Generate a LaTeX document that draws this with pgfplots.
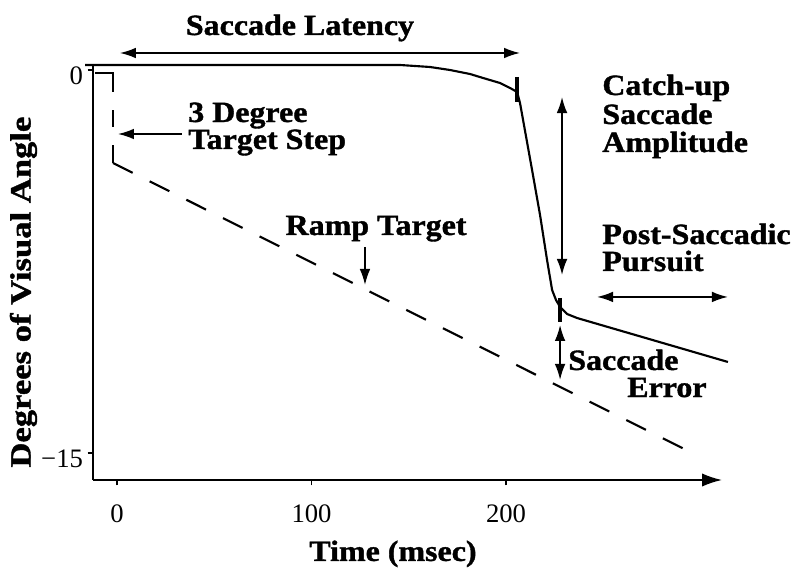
\documentclass[border=0pt]{standalone}
\usepackage{fontspec}
\setmainfont{Liberation Serif}[BoldFeatures={FakeBold=1.2}]
\usepackage{graphicx}
\usepackage{pgfplots}
\pgfplotsset{compat=1.18}
\usetikzlibrary{arrows.meta}

\newcommand{\wide}[1]{\scalebox{1.09}[1]{#1}}
\tikzset{
  lab/.style={font=\fontsize{22}{22}\selectfont\bfseries, inner sep=0pt},
  tip/.tip={Latex[length=12pt,width=8pt]},
  arr/.style={line width=1.2pt},
}

\begin{document}
\begin{tikzpicture}
\useasboundingbox (-69.75pt,-75.75pt) rectangle (530.25pt,360pt);
\begin{axis}[
  at={(0pt,0pt)}, anchor=south west,
  scale only axis, width=471.75pt, height=311.25pt,
  xmin=-12.34, xmax=311.05, ymin=-16.06, ymax=0.196,
  axis lines=left,
  axis line style={line width=1.3pt},
  x axis line style={-{Latex[length=15pt,width=10pt]}},
  y axis line style={-},
  xtick={0,100,200}, xticklabels={0,100,200},
  ytick={-15,0}, yticklabels={−15,0},
  tick align=outside, major tick length=4pt,
  tick style={line width=1pt, black},
  tick label style={font=\fontsize{20}{20}\selectfont},
  xticklabel style={yshift=-11pt},
  yticklabel style={yshift=-4.5pt},
  clip=false,
]

% target: step part
\addplot[line width=1.6pt, dash pattern=on 27.75pt off 13.5pt on 12.75pt off 13.5pt on 13.5pt off 60pt]
  coordinates {(-11.31,-0.118)(-2.06,-0.118)(-2.06,-3.643)};
% target: ramp
\addplot[line width=1.6pt, dash pattern=on 16.5pt off 14.25pt]
  coordinates {(-2.06,-3.643)(295.63,-15.0)};

% eye position
\addplot[line width=1.6pt, line join=round]
  coordinates {
    (-16.45,0.196)(145.5,0.196)(160.9,0.118)(171.2,0)(181.5,-0.157)
    (188.2,-0.313)(196.9,-0.509)(202.1,-0.705)(205.7,-0.862)(207.2,-1.293)
    (213.4,-3.917)(217.5,-5.680)(221.1,-7.442)(223.7,-8.617)(225.7,-9.009)
    (227.8,-9.283)(231.4,-9.557)(236.5,-9.714)(314.1,-11.437)
  };

% saccade start / end marks
\addplot[line width=2.6pt] coordinates {(205.7,-0.274)(205.7,-1.253)};
\addplot[line width=2.6pt] coordinates {(227.8,-8.93)(227.8,-9.87)};

% arrows
\draw[arr, tip-tip] (1.5,0.666) -- (207.2,0.666);
\draw[arr, tip-tip] (228.8,-1.058) -- (228.8,-8.03);
\draw[arr, tip-tip] (227.8,-9.988) -- (227.8,-12.14);
\draw[arr, tip-tip] (246.8,-8.89) -- (314.1,-8.89);
\draw[arr, -tip] (33.4,-2.507) -- (0.5,-2.507);
\draw[arr, -tip] (127.5,-6.933) -- (127.5,-8.42);

% labels
\node[lab, anchor=base] at (94.1,1.371) {\wide{Saccade Latency}};
\node[lab, anchor=base west] at (36.5,-2.037) {\wide{3 Degree}};
\node[lab, anchor=base west] at (36.5,-3.094) {\wide{Target Step}};
\node[lab, anchor=base west] at (249.4,-0.979) {\wide{Catch-up}};
\node[lab, anchor=base west] at (249.4,-2.115) {\wide{Saccade}};
\node[lab, anchor=base west] at (249.4,-3.212) {\wide{Amplitude}};
\node[lab, anchor=base west] at (249.4,-6.816) {\wide{Post-Saccadic}};
\node[lab, anchor=base west] at (249.4,-7.873) {\wide{Pursuit}};
\node[lab, anchor=base] at (133.2,-6.463) {\wide{Ramp Target}};
\node[lab, anchor=base west] at (231.9,-11.75) {\wide{Saccade}};
\node[lab, anchor=base west] at (262.2,-12.81) {\wide{Error}};
\node[lab, anchor=base] at (141.9,-19.23) {\wide{Time (msec)}};
\node[lab, rotate=90, anchor=center] at (-48.1,-8.70) {\scalebox{1.18}[1]{Degrees of Visual Angle}};

\end{axis}
\end{tikzpicture}
\end{document}
